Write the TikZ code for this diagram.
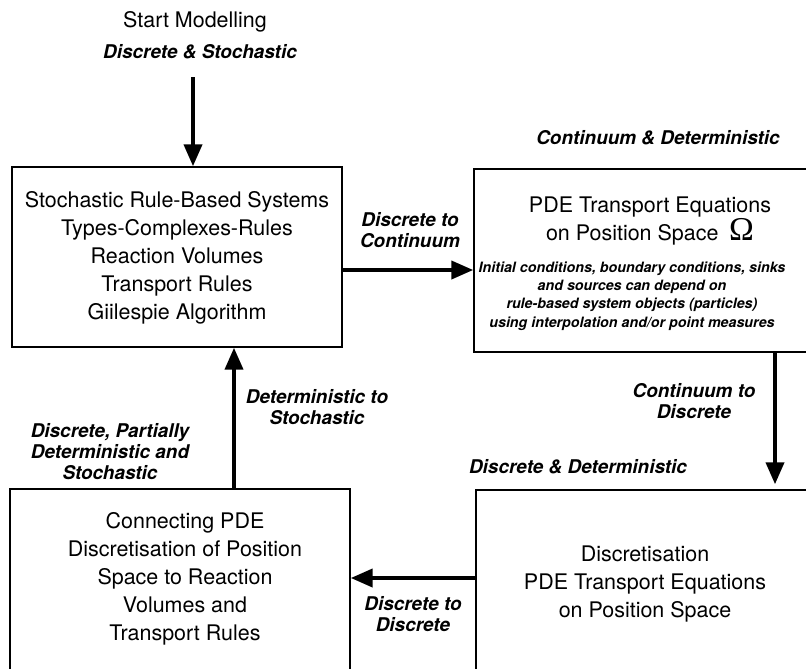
\documentclass[tikz,border=0pt]{standalone}
\usepackage{fontspec}
\setmainfont{TeX Gyre Heros}
\newfontfamily\omegafont{Liberation Serif}
\usetikzlibrary{fit}
\usetikzlibrary{arrows.meta}
\usetikzlibrary{positioning}

\begin{document}
\begin{tikzpicture}[x=0.75pt, y=-0.75pt,
        stagebox/.style={draw=black, line width=1.1pt, inner sep=0pt},
        maintext/.style={align=center, inner sep=0pt, font=\fontsize{16.1}{21}\selectfont},
        flowlabel/.style={align=center, inner sep=0pt, font=\fontsize{14.2}{15.75}\selectfont\bfseries\itshape},
        notetext/.style={align=center, inner sep=0pt, font=\fontsize{10.7}{13.7}\selectfont\bfseries\itshape},
        flowarrow/.style={line width=3pt, -{Triangle[length=16.5pt, width=13.5pt]}}]
            % Frame to fix the page size (the boxes run off right and bottom)
            \useasboundingbox                                                 (0, 0) rectangle (806, 668);
            \clip                                                             (0, 0) rectangle (806, 668);
            % Stage boxes
            \node[stagebox, fit={( 12, 167) (342, 347)}] (rules) {};
            \node[stagebox, fit={(474, 169) (840, 352)}] (pde)   {};
            \node[stagebox, fit={(476, 490) (840, 720)}] (discr) {};
            \node[stagebox, fit={( 10, 489) (350, 720)}] (conn)  {};
            % Box texts
            \node[maintext] (rulestext) at (177, 258)
                 {Stochastic Rule-Based Systems\\Types-Complexes-Rules\\Reaction Volumes\\Transport Rules\\Giilespie Algorithm};
            \node[maintext] (pdetext) at (650, 221)
                 {PDE Transport Equations\\on Position Space\enspace{\omegafont\fontsize{25}{25}\selectfont Ω}};
            \node[notetext] (pdenote) at (632, 296)
                 {Initial conditions, boundary conditions, sinks\\and sources can depend on\\rule-based system objects (particles)\\using interpolation and/or point measures};
            \node[maintext] (discrtext) at (645, 584)
                 {Discretisation\\PDE Transport Equations\\on Position Space};
            \node[maintext] (conntext) at (185, 579)
                 {Connecting PDE\\Discretisation of Position\\Space to Reaction\\Volumes and\\Transport Rules};
            % Regime labels
            \node[maintext]  (startlbl) at (195,  22) {Start Modelling};
            \node[flowlabel] (dslbl)    at (200,  52) {Discrete \& Stochastic};
            \node[flowlabel] (cdlbl)    at (658, 138) {Continuum \& Deterministic};
            \node[flowlabel] (ddlbl)    at (578, 467) {Discrete \& Deterministic};
            \node[flowlabel] (dpdslbl)  at (110, 452) {Discrete, Partially\\Deterministic and\\Stochastic};
            % Transition labels
            \node[flowlabel] (dtclbl)   at (410, 230) {Discrete to\\Continuum};
            \node[flowlabel] (ctdlbl)   at (694, 401) {Continuum to\\Discrete};
            \node[flowlabel] (dtdlbl)   at (413, 614) {Discrete to\\Discrete};
            \node[flowlabel] (dtslbl)   at (317, 407) {Deterministic to\\Stochastic};
            % Arrow rows / columns
            \coordinate (begin) at (193,  77);
            \coordinate (dtc)   at (400, 270);
            \coordinate (ctd)   at (775, 420);
            \coordinate (dtd)   at (413, 578);
            \coordinate (dts)   at (234, 420);
            % Transitions
            \draw[flowarrow]                  (begin)           -- (begin |- rules.north);
            \draw[flowarrow]                  (rules.east |- dtc) -- (pde.west |- dtc);
            \draw[flowarrow, shorten >=3.75pt] (pde.south -| ctd) -- (discr.north -| ctd);
            \draw[flowarrow]                  (discr.west |- dtd) -- (conn.east |- dtd);
            \draw[flowarrow]                  (conn.north -| dts) -- (rules.south -| dts);
\end{tikzpicture}
\end{document}
